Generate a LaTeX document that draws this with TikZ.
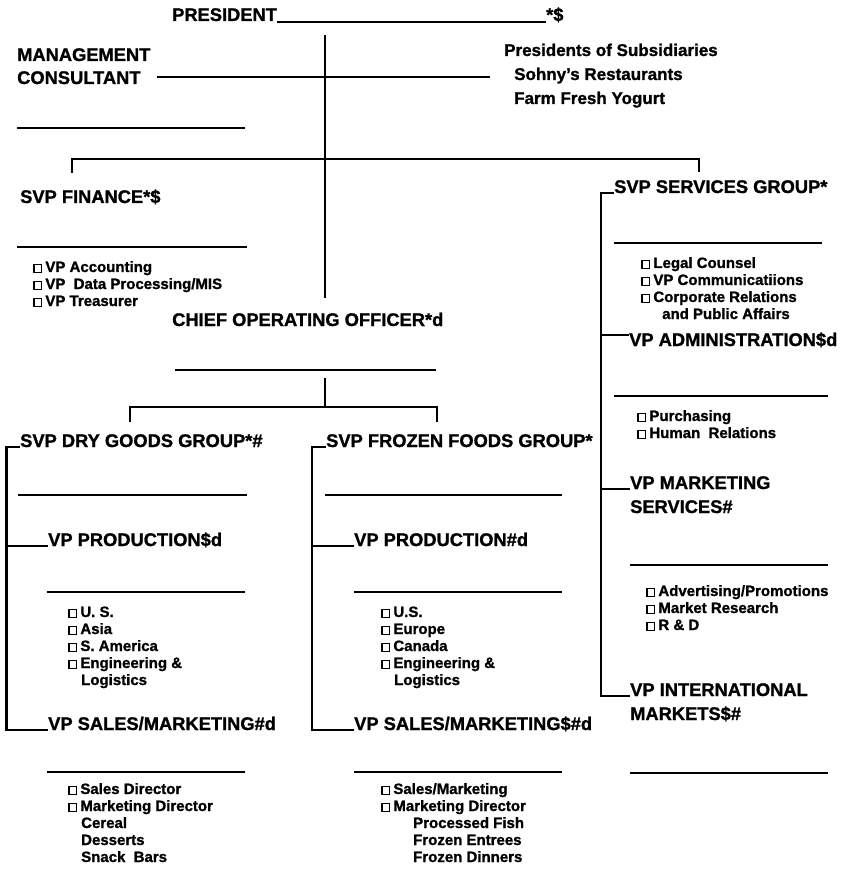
\documentclass[tikz,border=0pt]{standalone}
\usepackage{fontspec}
\setmainfont{Liberation Sans}[BoldFeatures={FakeBold=1.2}]
\newcommand{\bx}{{\setlength{\fboxrule}{1.4pt}\setlength{\fboxsep}{0pt}\fbox{\hbox to 6.4pt{\vrule height 6.6pt width 0pt\hfil}}}\hspace{3pt}}
\newcommand{\itemlist}[4]{%
  \foreach \t [count=\i from 0] in {#4} {\node[itm] (#1\i) at (#2,#3+17*\i) {\t};}}
\begin{document}
\begin{tikzpicture}[x=1pt,y=-1pt,
  head/.style={font=\fontsize{18.3}{22}\selectfont\bfseries,anchor=base west,inner sep=0pt},
  subh/.style={font=\fontsize{17}{22}\selectfont\bfseries,anchor=base west,inner sep=0pt},
  itm/.style={font=\fontsize{15}{17}\selectfont\bfseries,anchor=base west,inner sep=0pt},
  conn/.style={line width=2.8pt},
  blank/.style={line width=1.3pt}]
\fill[white] (0,0) rectangle (848,874);
\useasboundingbox (0,0) rectangle (848,874);

% President
\node[head] (pres) at (172,21) {PRESIDENT};
\node[head] (star) at (546,21) {*\$};
\draw[blank] ([yshift=-1pt]pres.base east) -- ([yshift=-1pt]star.base west);
\coordinate (trunkTop) at (325,35);
\coordinate (trunkBot) at (325,298);
\draw[conn] (trunkTop) -- (trunkBot);

% Management consultant and subsidiaries
\node[head] (mgmt) at (17,61) {MANAGEMENT};
\node[head] (cons) at (17,84) {CONSULTANT};
\node[subh] (subs) at (504,56) {Presidents of Subsidiaries};
\node[subh] (sohny) at (514,80) {Sohny's Restaurants};
\node[subh] (farm) at (514,104) {Farm Fresh Yogurt};
\coordinate (consL) at (157,77);
\coordinate (consR) at (490,77);
\draw[conn] (consL) -- (consR);
\draw[blank] (17,128) -- (245,128);

% Top bar
\coordinate (finTop) at (72,173);
\coordinate (svcTop) at (699,172);
\coordinate (barL) at (72,159);
\coordinate (barR) at (699,159);
\draw[conn] (finTop) -- (barL) -- (barR) -- (svcTop);

% Finance
\node[head] (fin) at (20,203) {SVP FINANCE*\$};
\draw[blank] (17,247) -- (247,247);
\itemlist{fin}{33}{272}{\bx VP Accounting,\bx VP\ \ Data Processing/MIS,\bx VP Treasurer}

% COO
\node[head] (coo) at (172,326) {CHIEF OPERATING OFFICER*d};
\draw[blank] (175,370) -- (436,370);
\coordinate (cooV1) at (325,378);
\coordinate (cooV2) at (325,407);
\draw[conn] (cooV1) -- (cooV2);
\coordinate (dryTop) at (130,422);
\coordinate (frzTop) at (437,422);
\draw[conn] (dryTop) -- (130,407) -- (437,407) -- (frzTop);

% Dry goods
\node[head] (sdry) at (20,447) {SVP DRY GOODS GROUP*\#};
\draw[blank] (18,495) -- (247,495);
\node[head] (dprod) at (48,546) {VP PRODUCTION\$d};
\draw[blank] (47,592) -- (245,592);
\itemlist{dp}{68}{617}{\bx U. S.,\bx Asia,\bx S. America,\bx Engineering \&,\hspace*{13pt}Logistics}
\node[head] (dsales) at (48,730) {VP SALES/MARKETING\#d};
\draw[blank] (47,772) -- (245,772);
\itemlist{ds}{68}{794}{\bx Sales Director,\bx Marketing Director,\hspace*{13pt}Cereal,\hspace*{13pt}Desserts,\hspace*{13pt}Snack\ \ Bars}
\coordinate (dryV) at (6.5,600);
\draw[conn] (sdry.base west) -| (dryV) |- (dsales.base west);
\draw[conn] (dprod.base west) -- (dprod.base west -| dryV);

% Frozen foods
\node[head] (sfrz) at (326,447) {SVP FROZEN FOODS GROUP*};
\draw[blank] (325,495) -- (562,495);
\node[head] (fprod) at (354,546) {VP PRODUCTION\#d};
\draw[blank] (354,592) -- (562,592);
\itemlist{fp}{381}{617}{\bx U.S.,\bx Europe,\bx Canada,\bx Engineering \&,\hspace*{13pt}Logistics}
\node[head] (fsales) at (354,730) {VP SALES/MARKETING\$\#d};
\draw[blank] (354,772) -- (562,772);
\itemlist{fs}{381}{794}{\bx Sales/Marketing,\bx Marketing Director,\hspace*{32pt}Processed Fish,\hspace*{32pt}Frozen Entrees,\hspace*{32pt}Frozen Dinners}
\coordinate (frzV) at (312,600);
\draw[conn] (sfrz.base west) -| (frzV) |- (fsales.base west);
\draw[conn] (fprod.base west) -- (fprod.base west -| frzV);

% Services
\node[head] (ssvc) at (614,193) {SVP SERVICES GROUP*};
\draw[blank] (614,243) -- (822,243);
\itemlist{sv}{641}{268}{\bx Legal Counsel,\bx VP Communicatiions,\bx Corporate Relations,\hspace*{21pt}and Public Affairs}
\node[head] (vadm) at (629,346) {VP ADMINISTRATION\$d};
\draw[blank] (614,396) -- (828,396);
\itemlist{ad}{637}{421}{\bx Purchasing,\bx Human\ \ Relations}
\node[head] (vmkt) at (630,489) {VP MARKETING};
\node[head] (vmkt2) at (630,513) {SERVICES\#};
\draw[blank] (630,565) -- (828,565);
\itemlist{mk}{646}{596}{\bx Advertising/Promotions,\bx Market Research,\bx R \& D}
\node[head] (vint) at (630,696) {VP INTERNATIONAL};
\node[head] (vint2) at (630,720) {MARKETS\$\#};
\draw[blank] (630,773) -- (828,773);
\coordinate (svcV) at (601,400);
\draw[conn] (ssvc.base west) -| (svcV) |- (vint.base west);
\draw[conn] ([yshift=11pt]vadm.base west) -- ([yshift=11pt]vadm.base west -| svcV);
\draw[conn] (vmkt.base west) -- (vmkt.base west -| svcV);
\end{tikzpicture}
\end{document}
